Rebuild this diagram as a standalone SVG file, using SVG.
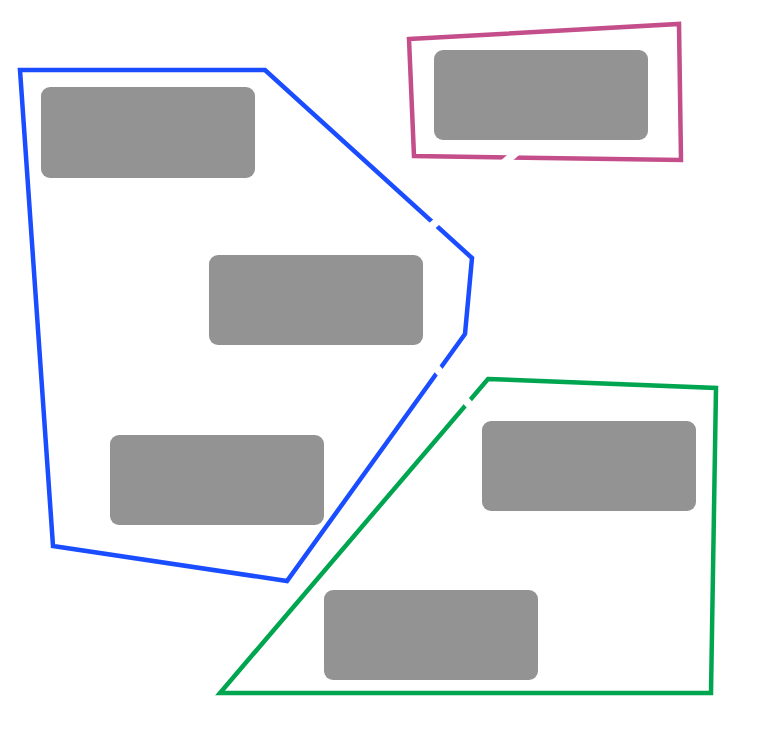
<svg xmlns="http://www.w3.org/2000/svg" width="758" height="731" viewBox="0 0 758 731">
<style>
.node rect{fill:#939393;}
.cl{fill:none;stroke-width:4.5;stroke-linejoin:miter;}
.edge{stroke:#ffffff;stroke-width:8;fill:none;}
</style>
<rect width="758" height="731" fill="#ffffff"/>
<g id="clusters">
<polygon id="cluster-blue" class="cl" stroke="#1a4dff" points="20,70 265,70 472,258 465,334 287,581 53,546"/>
<polygon id="cluster-magenta" class="cl" stroke="#c44e8a" points="409,39 679,24 681,160 414,156"/>
<polygon id="cluster-green" class="cl" stroke="#00a550" points="488,379 716,388 711,693 220,693"/>
</g>
<g id="connectors">
<line class="edge" x1="425" y1="232" x2="528" y2="142"/>
<line class="edge" x1="420" y1="350" x2="478" y2="414"/>
</g>
<g id="n1" class="node"><rect x="41" y="87" width="214" height="91" rx="9"/></g>
<g id="n2" class="node"><rect x="209" y="255" width="214" height="90" rx="9"/></g>
<g id="n3" class="node"><rect x="110" y="435" width="214" height="90" rx="9"/></g>
<g id="n4" class="node"><rect x="434" y="50" width="214" height="90" rx="9"/></g>
<g id="n5" class="node"><rect x="482" y="421" width="214" height="90" rx="9"/></g>
<g id="n6" class="node"><rect x="324" y="590" width="214" height="90" rx="9"/></g>
</svg>
